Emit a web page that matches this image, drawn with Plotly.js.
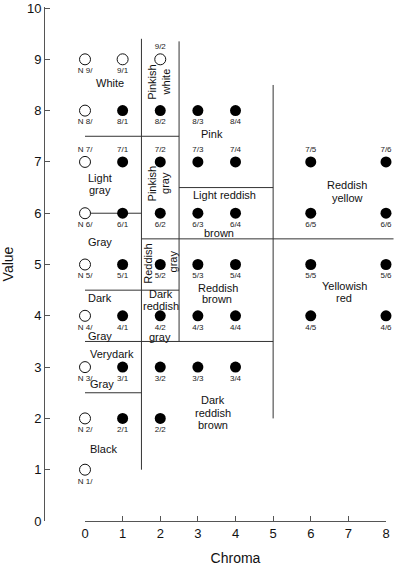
<!DOCTYPE html>
<html>
<head>
<meta charset="utf-8">
<script src="https://cdn.plot.ly/plotly-3.0.1.min.js"></script>
<style>
  html, body { margin: 0; padding: 0; background: #fff; }
  #chart { width: 394px; height: 566px; }
</style>
</head>
<body>
<div id="chart"></div>
<script>
// neutral (N) and near-neutral chips drawn as open circles
const openChroma = [0, 0, 0, 0, 0, 0, 0, 0, 0, 1, 2];
const openValue = [1, 2, 3, 4, 5, 6, 7, 8, 9, 9, 9];
const openLabel = ["N 1/", "N 2/", "N 3/", "N 4/", "N 5/", "N 6/", "N 7/", "N 8/", "N 9/", "9/1", "9/2"];

// coloured chips drawn as filled circles (chroma 5 and 6 sit at 6 and 8)
const fillChroma = [1, 2, 3, 4, 1, 2, 3, 4, 6, 8, 1, 2, 3, 4, 6, 8, 1, 2, 3, 4, 6, 8, 1, 2, 3, 4, 6, 8, 1, 2, 3, 4, 1, 2];
const fillValue = [8, 8, 8, 8, 7, 7, 7, 7, 7, 7, 6, 6, 6, 6, 6, 6, 5, 5, 5, 5, 5, 5, 4, 4, 4, 4, 4, 4, 3, 3, 3, 3, 2, 2];
const fillLabel = ["8/1", "8/2", "8/3", "8/4",
  "7/1", "7/2", "7/3", "7/4", "7/5", "7/6",
  "6/1", "6/2", "6/3", "6/4", "6/5", "6/6",
  "5/1", "5/2", "5/3", "5/4", "5/5", "5/6",
  "4/1", "4/2", "4/3", "4/4", "4/5", "4/6",
  "3/1", "3/2", "3/3", "3/4",
  "2/1", "2/2"];

// colour-name boundaries: [x0, y0, x1, y1] in chroma / value
const boundaries = [
  [1.5, 1, 1.5, 9.4],
  [2.5, 3.5, 2.5, 9.35],
  [5, 2, 5, 8.5],
  [0, 7.5, 2.5, 7.5],
  [2.5, 6.5, 5, 6.5],
  [0, 6, 1.5, 6],
  [0, 4.5, 2.5, 4.5],
  [0, 3.5, 5, 3.5],
  [0, 2.5, 1.5, 2.5],
];
// this one runs past the last tick, so it is placed on paper
const longLine = [1.5, 5.5, 8.2, 5.5];

// colour names, one entry per line: [text, chroma, value, rotated]
const names = [
  ["White", 0.66, 8.53, false],
  ["Pinkish", 1.78, 8.56, true],
  ["white", 2.14, 8.56, true],
  ["Pink", 3.38, 7.54, false],
  ["Light", 0.40, 6.69, false],
  ["gray", 0.40, 6.45, false],
  ["Pinkish", 1.78, 6.58, true],
  ["gray", 2.14, 6.58, true],
  ["Light reddish", 3.72, 6.36, false],
  ["brown", 3.56, 5.62, false],
  ["Reddish", 6.97, 6.55, false],
  ["yellow", 6.97, 6.30, false],
  ["Gray", 0.40, 5.43, false],
  ["Reddish", 1.68, 5.02, true],
  ["gray", 2.34, 5.06, true],
  ["Reddish", 3.54, 4.55, false],
  ["brown", 3.51, 4.32, false],
  ["Yellowish", 6.89, 4.59, false],
  ["red", 6.89, 4.34, false],
  ["Dark", 0.40, 4.34, false],
  ["Gray", 0.40, 3.60, false],
  ["Dark", 2.02, 4.42, false],
  ["reddish", 2.02, 4.20, false],
  ["gray", 2.00, 3.59, false],
  ["Verydark", 0.72, 3.26, false],
  ["Gray", 0.45, 2.67, false],
  ["Black", 0.48, 1.40, false],
  ["Dark", 3.40, 2.36, false],
  ["reddish", 3.40, 2.11, false],
  ["brown", 3.40, 1.88, false],
];

const xTicks = [0, 1, 2, 3, 4, 5, 6, 7, 8];
const yTicks = [0, 1, 2, 3, 4, 5, 6, 7, 8, 9, 10];

const font = "Liberation Sans, Arial, sans-serif";
const labelPos = (v, lab) => (v === 7 || lab === "9/2") ? "top center" : "bottom center";

const traces = [
  {
    x: openChroma, y: openValue, text: openLabel,
    type: "scatter", mode: "markers+text",
    textposition: openLabel.map((l, i) => labelPos(openValue[i], l)),
    textfont: { family: font, size: 8, color: "#222" },
    marker: { size: 11, color: "#fff", line: { color: "#111", width: 1 } },
    cliponaxis: false, hoverinfo: "skip",
  },
  {
    x: fillChroma, y: fillValue, text: fillLabel,
    type: "scatter", mode: "markers+text",
    textposition: fillLabel.map((l, i) => labelPos(fillValue[i], l)),
    textfont: { family: font, size: 8, color: "#222" },
    marker: { size: 11, color: "#000" },
    cliponaxis: false, hoverinfo: "skip",
  },
];

const yRange = [0, 10.02];
const shapes = boundaries.map((b) => ({
  type: "line", xref: "x", yref: "y", layer: "below",
  x0: b[0], y0: b[1], x1: b[2], y1: b[3],
  line: { color: "#333", width: 1 },
}));

const xDomain = [0.1199, 1];
const toPaperX = (c) => xDomain[0] + (c / 8) * (xDomain[1] - xDomain[0]);
const toPaperY = (v) => (v - yRange[0]) / (yRange[1] - yRange[0]);
shapes.push({
  type: "line", xref: "paper", yref: "paper", layer: "below",
  x0: toPaperX(longLine[0]), y0: toPaperY(longLine[1]),
  x1: toPaperX(longLine[2]), y1: toPaperY(longLine[3]),
  line: { color: "#333", width: 1 },
});

const annotations = names.map((n) => ({
  text: n[0], x: n[1], y: n[2], xref: "x", yref: "y",
  showarrow: false, textangle: n[3] ? -90 : 0,
  font: { family: font, size: 11, color: "#111" },
}));

const layout = {
  width: 394,
  height: 566,
  margin: { l: 44, r: 8, t: 7, b: 45 },
  paper_bgcolor: "#fff",
  plot_bgcolor: "#fff",
  showlegend: false,
  font: { family: font, color: "#111" },
  xaxis: {
    domain: xDomain,
    range: [0, 8],
    tickvals: xTicks,
    ticks: "inside", ticklen: 5, tickcolor: "#555",
    showline: true, linecolor: "#555", linewidth: 1,
    showgrid: false, zeroline: false,
    tickfont: { size: 13 },
    title: { text: "Chroma", font: { size: 14 }, standoff: 18 },
  },
  yaxis: {
    anchor: "free", position: 0,
    range: yRange,
    tickvals: yTicks,
    ticks: "inside", ticklen: 5, tickcolor: "#555",
    showline: true, linecolor: "#555", linewidth: 1,
    showgrid: false, zeroline: false,
    ticklabeloverflow: "allow",
    tickfont: { size: 13 },
    title: { text: "Value", font: { size: 14 }, standoff: 14 },
  },
  shapes: shapes,
  annotations: annotations,
};

Plotly.newPlot("chart", traces, layout, { staticPlot: true });
</script>
</body>
</html>
